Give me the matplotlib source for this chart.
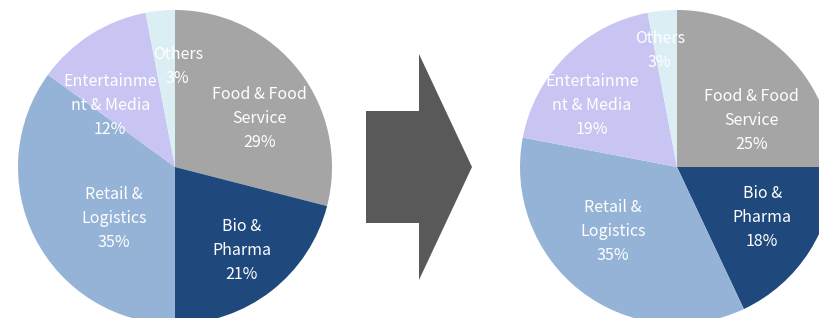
import numpy as np
import matplotlib.pyplot as plt
import matplotlib.patches as mpatches

plt.rcParams["font.family"] = ["Noto Sans CJK KR", "DejaVu Sans"]

categories = ["Food & Food\nService", "Bio &\nPharma", "Retail &\nLogistics",
              "Entertainme\nnt & Media", "Others"]
before_pct = [29, 21, 35, 12, 3]
after_pct = [25, 18, 35, 19, 3]
colors = ["#A5A5A5", "#1F497D", "#95B3D7", "#C8C5F3", "#DAEEF3"]

# label placement (fraction of radius, angle nudge in degrees) per wedge
before_label_r = [0.62, 0.68, 0.51, 0.57, 0.64]
before_label_da = [-8, 1, 13, 14, -7]
after_label_r = [0.56, 0.63, 0.58, 0.67, 0.75]
after_label_da = [-13, 2, -7, 9, 3]

W, H = 819, 318
fig = plt.figure(figsize=(W / 100, H / 100), dpi=100)
ax = fig.add_axes([0, 0, 1, 1])


def draw_pie(values, center, radius, label_r, label_da):
    wedges, _ = ax.pie(values, colors=colors, startangle=90, counterclock=False,
                       center=center, radius=radius, frame=True,
                       wedgeprops=dict(linewidth=0))
    for w, name, v, lr, da in zip(wedges, categories, values, label_r, label_da):
        ang = np.deg2rad((w.theta1 + w.theta2) / 2 + da)
        x = center[0] + lr * radius * np.cos(ang)
        y = center[1] + lr * radius * np.sin(ang)
        ax.text(x, y, f"{name}\n{v}%", ha="center", va="center", color="white",
                fontsize=11.5, fontweight="medium", linespacing=1.54)


draw_pie(before_pct, (175, 151), 157, before_label_r, before_label_da)
draw_pie(after_pct, (677, 151), 157, after_label_r, after_label_da)

arrow = mpatches.FancyArrow(366, 151, 106, 0, width=112, head_width=226,
                            head_length=53, length_includes_head=True,
                            color="#595959", linewidth=0)
ax.add_patch(arrow)

ax.set_xlim(0, W)
ax.set_ylim(0, H)
ax.set_aspect("equal")
ax.axis("off")
fig.savefig("out.png", dpi=100)
